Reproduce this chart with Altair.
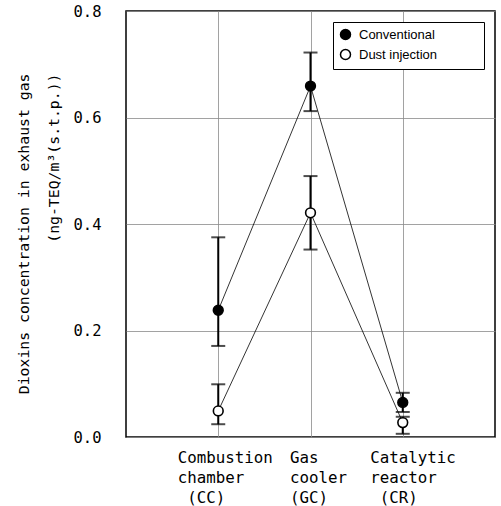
import altair as alt
import pandas as pd

# ---- data ----
stage_pos = [1, 2, 3]
stage_labels = [
    ["Combustion", "chamber", "\u200b\u00a0(CC)"],
    ["Gas", "cooler", "(GC)"],
    ["Catalytic", "reactor", "\u200b\u00a0(CR)"],
]
series = ["Conventional", "Dust injection"]

conv_mean = [0.238, 0.659, 0.065]
conv_hi = [0.375, 0.722, 0.083]
conv_lo = [0.171, 0.612, 0.047]

dust_mean = [0.049, 0.421, 0.027]
dust_hi = [0.099, 0.490, 0.038]
dust_lo = [0.024, 0.352, 0.006]

y_ticks = [0.0, 0.2, 0.4, 0.6, 0.8]

rows = []
for name, m, hi, lo in [(series[0], conv_mean, conv_hi, conv_lo),
                        (series[1], dust_mean, dust_hi, dust_lo)]:
    for x, a, b, c in zip(stage_pos, m, hi, lo):
        rows.append({"series": name, "x": x, "mean": a, "hi": b, "lo": c})
df = pd.DataFrame(rows)

# label expression built from the label lists
def js_arr(lines):
    return "[" + ",".join("'" + l + "'" for l in lines) + "]"

label_expr = " : ".join(
    f"datum.value == {p} ? {js_arr(l)}" for p, l in zip(stage_pos[:-1], stage_labels[:-1])
) + " : " + js_arr(stage_labels[-1])

mono = "DejaVu Sans Mono"

x_enc = alt.X(
    "x:Q",
    scale=alt.Scale(domain=[0, 4], nice=False),
    axis=alt.Axis(
        values=stage_pos,
        labelExpr=label_expr,
        title=None,
        grid=True,
        gridColor="#8a8a8a",
        gridWidth=0.8,
        ticks=False,
        domain=False,
        labelFont=mono,
        labelFontSize=15.8,
        labelLineHeight=20,
        labelAlign="left",
        labelBaseline="top",
        labelPadding=13,
        labelColor="black",
        labelOffset={"condition": [{"test": "datum.value == 1", "value": -41},
                                   {"test": "datum.value == 2", "value": -21}],
                     "value": -33},
    ),
)

y_scale = alt.Scale(domain=[0, 0.8], nice=False)
y_axis = alt.Axis(
    values=y_ticks,
    format=".1f",
    grid=True,
    gridColor="#8a8a8a",
    gridWidth=0.8,
    ticks=False,
    domain=False,
    labelFont=mono,
    labelFontSize=15.5,
    labelPadding=25,
    labelColor="black",
    title=["Dioxins concentration in exhaust gas", "(ng-TEQ/m\u00b3(s.t.p.))"],
    titleFont=mono,
    titleFontSize=14.8,
    titleFontWeight="normal",
    titleColor="black",
    titleAngle=-90,
    titleAlign="right",
    titleBaseline="top",
    titleLineHeight=30,
    titleX=-110,
    titleY=62,
)

base = alt.Chart(df)

lines = base.mark_line(color="black", strokeWidth=0.8).encode(
    x=x_enc,
    y=alt.Y("mean:Q", scale=y_scale, axis=y_axis),
    detail="series:N",
)

bars = base.mark_rule(color="black", strokeWidth=2).encode(
    x="x:Q", y="lo:Q", y2="hi:Q"
)
cap_hi = base.mark_tick(color="black", orient="horizontal", size=14, thickness=2).encode(
    x="x:Q", y="hi:Q"
)
cap_lo = base.mark_tick(color="black", orient="horizontal", size=14, thickness=2).encode(
    x="x:Q", y="lo:Q"
)

pad = "\u2800" * 4

points = base.mark_point(shape="circle", size=95, stroke="black", strokeWidth=1.6, opacity=1, filled=False).encode(
    x="x:Q",
    y="mean:Q",
    fill=alt.Fill(
        "series:N",
        scale=alt.Scale(domain=series, range=["black", "white"]),
        legend=alt.Legend(
            title=None,
            orient="none",
            legendX=207,
            legendY=11,
            strokeColor="black",
            fillColor="white",
            padding=6,
            labelFont="Liberation Sans",
            labelFontSize=13,
            labelColor="black",
            labelExpr="datum.label + '" + pad + "'",
            symbolType="circle",
            symbolSize=100,
            symbolStrokeColor="black",
            symbolStrokeWidth=1.5,
            rowPadding=3,
            labelOffset=7,
            labelLimit=300,
        ),
    ),
)

chart = (
    alt.layer(lines, bars, cap_hi, cap_lo, points)
    .properties(
        width=369,
        height=426,
        padding={"left": 126, "top": 11, "right": 6, "bottom": 69},
        autosize=alt.AutoSizeParams(type="none"),
        background="white",
    )
    .configure_view(stroke="black", strokeWidth=1.5)
)

chart.save("out.html", embed_options={"renderer": "svg", "actions": False})
